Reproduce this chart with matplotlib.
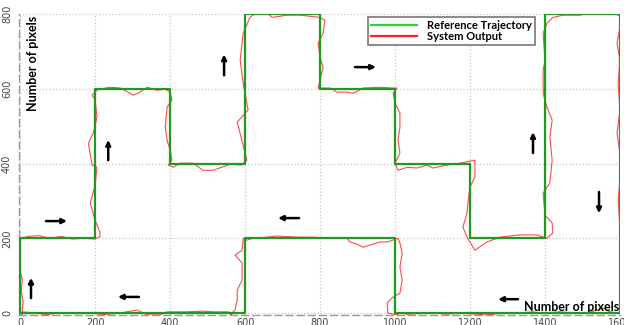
import numpy as np
import matplotlib.pyplot as plt
from matplotlib.lines import Line2D

# reference trajectory corners (pixels)
ref_x = [0, 0, 200, 200, 400, 400, 600, 600, 800, 800, 1000, 1000, 1200, 1200,
         1400, 1400, 1600, 1600, 1000, 1000, 600, 600, 0]
ref_y = [0, 200, 200, 600, 600, 400, 400, 800, 800, 600, 600, 400, 400, 200,
         200, 800, 800, 0, 0, 200, 200, 0, 0]

out_x = [5, 8, 3, 6, 0, -10, -18, -12, 0,
         20, 50, 80, 110, 140, 170, 200, 213,
         213, 200, 187, 200, 205, 192, 182, 195, 205, 200, 192, 205,
         213, 240, 267, 288, 301, 315, 339, 365, 387, 400, 405,
         392, 387, 392, 400, 405, 395, 408,
         427, 461, 488, 515, 560, 590, 605,
         579, 608, 595, 587, 595, 613, 632, 659, 672, 712, 747, 800,
         813, 808, 795, 800, 808, 800, 795,
         827, 845, 872, 888, 915, 960, 992, 1005,
         995, 1000, 1013, 1013, 1008, 1013, 1000, 1008,
         1032, 1059, 1085, 1101, 1139, 1173, 1213,
         1213, 1200, 1195, 1192, 1181, 1192, 1213,
         1245, 1280, 1333, 1379, 1405, 1421, 1419, 1400,
         1395, 1413, 1419, 1413, 1419, 1405, 1395, 1395, 1400, 1395, 1405,
         1421, 1448, 1493, 1528, 1565, 1600,
         1600, 1592, 1600, 1595, 1600, 1592, 1600, 1600, 1595, 1600, 1600, 1600, 1605, 1600,
         1573, 1555, 1539, 1512, 1475, 1440, 1387, 1368, 1325, 1288, 1245, 1173,
         1139, 1101, 1032, 1013,
         1005, 981, 979, 995, 1013, 1019, 1013, 1019, 1013, 1008,
         979, 960, 933, 915, 899, 880, 872, 845, 827, 781, 739, 685, 659, 621,
         605, 595,
         592, 573, 592, 592, 579, 579, 573, 560,
         568, 552, 515, 488, 445, 392, 373, 339, 312, 267, 213, 168, 125, 80,
         35, 8, 5]
out_y = [-3, 30, 60, 90, 110, 135, 160, 180, 198,
         205, 207, 200, 205, 198, 200, 198, 205,
         216, 248, 294, 342, 390, 396, 454, 481, 524, 570, 583, 596,
         599, 604, 602, 591, 583, 588, 604, 596, 599, 591, 570,
         551, 497, 463, 436, 409, 396, 390,
         401, 401, 382, 382, 398, 396, 409,
         511, 543, 615, 676, 749, 791, 805, 802, 791, 797, 797, 791,
         783, 749, 722, 684, 658, 623, 602,
         602, 591, 591, 588, 602, 604, 602, 602,
         588, 561, 535, 497, 463, 428, 401, 382,
         390, 388, 396, 388, 396, 401, 409,
         364, 337, 302, 267, 230, 203, 168,
         190, 203, 209, 209, 200, 214, 241, 262,
         321, 348, 409, 471, 516, 551, 588, 650, 676, 749, 775,
         791, 797, 797, 805, 802, 797,
         765, 722, 676, 615, 543, 481, 428, 356, 302, 230, 160, 88, 35, 0,
         3, 13, 8, 0, 0, 3, 0, 3, 0, 0, -5, 0,
         -3, 0, -3, 0,
         -5, 0, 27, 43, 53, 88, 123, 160, 187, 200,
         190, 190, 182, 176, 184, 190, 200, 200, 200, 203, 203, 206, 203, 200,
         195, 200,
         168, 155, 134, 88, 61, 35, 8, -5,
         0, 3, 3, 5, 3, 3, -5, -5, 8, 0, -5, -11, -11, -5,
         0, 3, -3]

# direction arrows: start -> end
arrow_x0 = [29, 69, 317, 235, 544, 893, 744, 1368, 1544, 1328]
arrow_y0 = [40, 246, 43, 409, 636, 658, 254, 428, 324, 37]
arrow_x1 = [29, 125, 261, 235, 544, 949, 688, 1368, 1544, 1275]
arrow_y1 = [94, 246, 43, 463, 692, 658, 254, 484, 267, 37]

fig = plt.figure(figsize=(6.24, 3.25), dpi=100)
ax = fig.add_axes([19 / 624, 0.030, 601 / 624, 301.2 / 325])

ax.plot(out_x, out_y, color='#ff2a2a', lw=0.8, alpha=0.85, zorder=3)
ax.plot(ref_x, ref_y, color='#1e9a1e', lw=1.6, zorder=4)

for x0, y0, x1, y1 in zip(arrow_x0, arrow_y0, arrow_x1, arrow_y1):
    ax.annotate('', xy=(x1, y1), xytext=(x0, y0),
                arrowprops=dict(arrowstyle='-|>', color='black', lw=1.8,
                                mutation_scale=7, shrinkA=0, shrinkB=0),
                zorder=5)

ax.set_xlim(-3, 1600)
ax.set_ylim(-6, 800)
ax.set_xticks(range(0, 1601, 200))
ax.set_yticks(range(0, 801, 200))
ax.grid(True, linestyle=':', color='#c8c8c8', lw=0.9)
ax.tick_params(length=0, labelsize=7, labelcolor='#444444')
ax.tick_params(axis='y', pad=5)
ax.tick_params(axis='x', pad=2)
for lab in ax.get_yticklabels():
    lab.set_rotation(90)
    lab.set_va('center')

for s in ['top', 'right']:
    ax.spines[s].set_visible(False)
for s in ['left', 'bottom']:
    ax.spines[s].set_linestyle((0, (5, 3)))
    ax.spines[s].set_color('#999999')
    ax.spines[s].set_linewidth(1)

ax.text(0.013, 0.995, 'Number of pixels', transform=ax.transAxes, rotation=90,
        ha='left', va='top', fontsize=9, fontweight='bold', family='Lato')
ax.text(0.998, 0.027, 'Number of pixels', transform=ax.transAxes,
        ha='right', va='center', fontsize=9, fontweight='bold', family='Lato')

handles = [Line2D([], [], color='#33cc33', lw=1.6),
           Line2D([], [], color='#ff2020', lw=1.6)]
leg = ax.legend(handles, ['Reference Trajectory', 'System Output'],
                loc='upper left', bbox_to_anchor=(368 / 624, 1 - 17 / 325),
                bbox_transform=fig.transFigure, fancybox=False, framealpha=1,
                edgecolor='#777777', handlelength=4.2, borderpad=0.25,
                labelspacing=0.05, handletextpad=0.9, borderaxespad=0,
                prop={'family': 'Lato', 'weight': 'bold', 'size': 8})
leg.get_frame().set_linewidth(1.2)

fig.savefig('out.png', dpi=100)
